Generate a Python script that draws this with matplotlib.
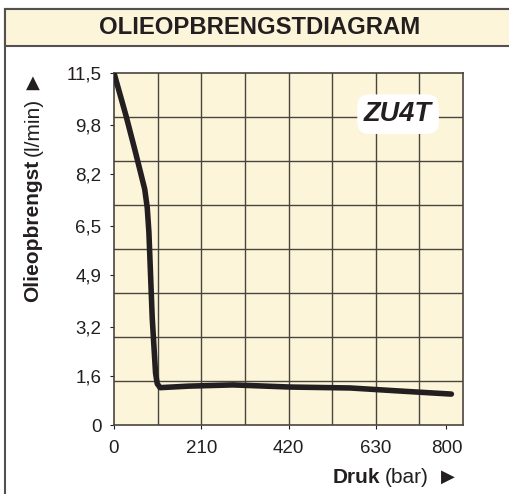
import matplotlib.pyplot as plt
from matplotlib.patches import Rectangle

plt.rcParams['font.family'] = ['Liberation Sans', 'DejaVu Sans']

# oliedebiet vs druk
druk = [0, 29, 50, 63, 74, 80, 84, 92, 100, 104, 111, 180, 286, 424, 568, 688, 812]
debiet = [11.5, 10.1, 9.0, 8.3, 7.7, 7.1, 6.3, 3.5, 1.7, 1.35, 1.22, 1.27, 1.31, 1.24, 1.21, 1.11, 1.01]

x_ticks = [0, 210, 420, 630, 800]
x_labels = ['0', '210', '420', '630', '800']
y_ticks = [0, 1.6, 3.2, 4.9, 6.5, 8.2, 9.8, 11.5]
y_labels = ['0', '1,6', '3,2', '4,9', '6,5', '8,2', '9,8', '11,5']
x_max = 840
y_max = 11.5

cream = '#fcf5d9'
ink = '#231f20'
gridc = '#4a443e'

fig = plt.figure(figsize=(5.10, 4.94), dpi=100)

# kader en titelbalk
fig.patches.append(Rectangle((5 / 510, -0.1), 1.1, (494 - 9) / 494 + 0.1,
                             transform=fig.transFigure, facecolor='white',
                             edgecolor='#555050', linewidth=1.5, zorder=-2))
fig.patches.append(Rectangle((5 / 510, (494 - 46) / 494), 1.1, 37 / 494,
                             transform=fig.transFigure, facecolor=cream,
                             edgecolor='#555050', linewidth=1.5, zorder=-1))
fig.text(260 / 510, (494 - 28) / 494, 'OLIEOPBRENGSTDIAGRAM', ha='center', va='center',
         fontsize=17.2, fontweight='bold', color=ink)

ax = fig.add_axes([114 / 510, 69 / 494, 349 / 510, 352 / 494])
ax.set_zorder(2)
ax.set_facecolor(cream)
ax.set_xlim(0, x_max)
ax.set_ylim(0, y_max)

# raster: 8 x 8 vakken
for i in range(1, 8):
    ax.axvline(x_max * i / 8, color=gridc, lw=1.0, zorder=1)
    ax.axhline(y_max * i / 8, color=gridc, lw=1.0, zorder=1)
for s in ax.spines.values():
    s.set_color(gridc)
    s.set_linewidth(1.2)

ax.plot(druk, debiet, color=ink, lw=4.0, solid_capstyle='round', solid_joinstyle='round', zorder=3)

ax.set_xticks(x_ticks)
ax.set_xticklabels(x_labels)
ax.set_yticks(y_ticks)
ax.set_yticklabels(y_labels)
ax.tick_params(axis='both', labelsize=13.5, colors=ink, length=3, width=0.8, direction='out')
ax.tick_params(axis='x', pad=8)
ax.tick_params(axis='y', pad=6)

ax.text(0.814, 0.883, 'ZU4T', transform=ax.transAxes, ha='center', va='center',
        fontsize=19.5, fontweight='bold', style='italic', color=ink, zorder=5,
        bbox=dict(boxstyle='round,pad=0.25,rounding_size=0.45', facecolor='white', edgecolor='none'))

# aslabels
t1 = fig.text(333 / 510, (494 - 477) / 494, 'Druk', ha='left', va='center',
              fontsize=15, fontweight='bold', color=ink)
t2 = ax.annotate('(bar)', xy=(1, 0.5), xycoords=t1, xytext=(3, 0), textcoords='offset points',
                 ha='left', va='center', fontsize=15, color=ink, annotation_clip=False)
ax.annotate('\u25b6', xy=(1, 0.5), xycoords=t2, xytext=(9, 0), textcoords='offset points',
            ha='left', va='center', fontsize=13, color=ink, family='DejaVu Sans',
            annotation_clip=False)

y1 = fig.text(33 / 510, (494 - 302) / 494, 'Olieopbrengst', rotation=90, ha='center', va='bottom',
              fontsize=15, fontweight='bold', color=ink)
y2 = ax.annotate('(l/min)', xy=(0.5, 1), xycoords=y1, xytext=(0, 3), textcoords='offset points',
                 rotation=90, ha='center', va='bottom', fontsize=15, color=ink,
                 annotation_clip=False)
ax.annotate('\u25b2', xy=(0.5, 1), xycoords=y2, xytext=(0, 4), textcoords='offset points',
            ha='center', va='bottom', fontsize=13, color=ink, family='DejaVu Sans',
            annotation_clip=False)

fig.savefig('out.png', dpi=100)
